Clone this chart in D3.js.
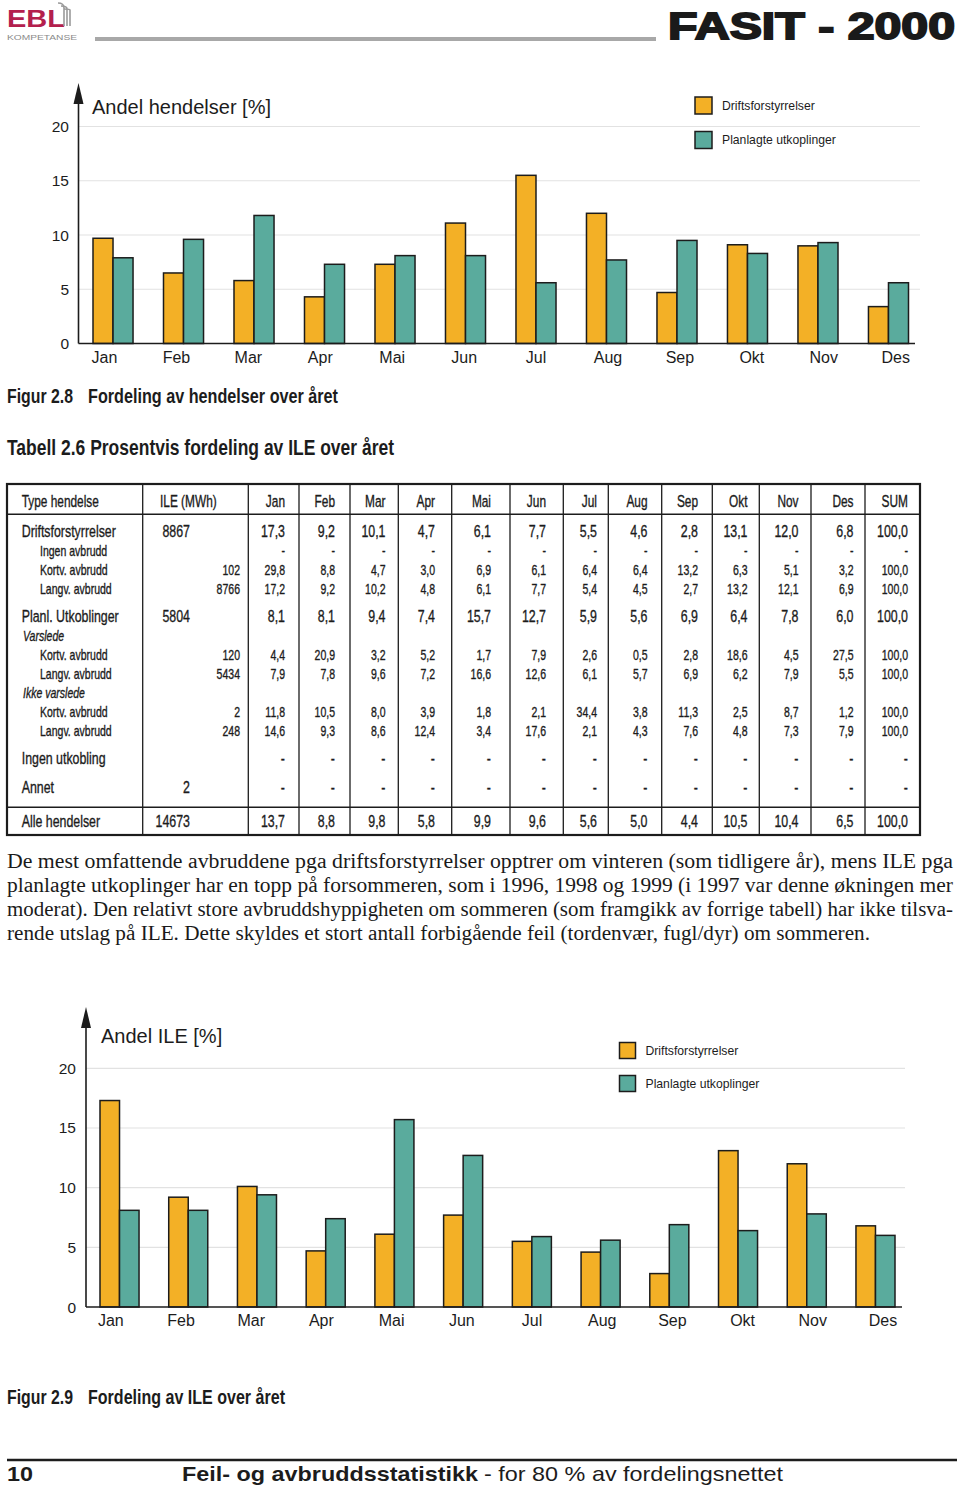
<!DOCTYPE html>
<html><head><meta charset="utf-8">
<script src="https://cdn.jsdelivr.net/npm/d3@7"></script>
<style>body{margin:0;background:#fff}svg{display:block}</style>
</head><body><svg id="c" width="960" height="1488"></svg>
<script>
// ---------------- DATA ----------------
const months = ["Jan","Feb","Mar","Apr","Mai","Jun","Jul","Aug","Sep","Okt","Nov","Des"];
const seriesNames = ["Driftsforstyrrelser","Planlagte utkoplinger"];
const yTicks = [0,5,10,15,20];

// Figur 2.8 – Andel hendelser [%]
const hendDrift = [9.7,6.5,5.8,4.3,7.3,11.1,15.5,12.0,4.7,9.1,9.0,3.4];
const hendPlan  = [7.9,9.6,11.8,7.3,8.1,8.1,5.6,7.7,9.5,8.3,9.3,5.6];

// Figur 2.9 – Andel ILE [%]
const ileDrift = [17.3,9.2,10.1,4.7,6.1,7.7,5.5,4.6,2.8,13.1,12.0,6.8];
const ilePlan  = [8.1,8.1,9.4,7.4,15.7,12.7,5.9,5.6,6.9,6.4,7.8,6.0];

// Tabell 2.6
const tableHeader = ["Type hendelse","ILE (MWh)"].concat(months).concat(["SUM"]);
const rowLabels = ["Driftsforstyrrelser","Ingen avbrudd","Kortv. avbrudd","Langv. avbrudd",
  "Planl. Utkoblinger","Varslede","Kortv. avbrudd","Langv. avbrudd","Ikke varslede",
  "Kortv. avbrudd","Langv. avbrudd","Ingen utkobling","Annet","Alle hendelser"];
const rowKinds = ["main","sub","sub","sub","main","group","sub","sub","group","sub","sub","main","main","main"];
const rowIle = [8867,null,102,8766,5804,null,120,5434,null,2,248,null,2,14673];
const rowValues = [
  [17.3,9.2,10.1,4.7,6.1,7.7,5.5,4.6,2.8,13.1,12.0,6.8],
  "-",
  [29.8,8.8,4.7,3.0,6.9,6.1,6.4,6.4,13.2,6.3,5.1,3.2],
  [17.2,9.2,10.2,4.8,6.1,7.7,5.4,4.5,2.7,13.2,12.1,6.9],
  [8.1,8.1,9.4,7.4,15.7,12.7,5.9,5.6,6.9,6.4,7.8,6.0],
  null,
  [4.4,20.9,3.2,5.2,1.7,7.9,2.6,0.5,2.8,18.6,4.5,27.5],
  [7.9,7.8,9.6,7.2,16.6,12.6,6.1,5.7,6.9,6.2,7.9,5.5],
  null,
  [11.8,10.5,8.0,3.9,1.8,2.1,34.4,3.8,11.3,2.5,8.7,1.2],
  [14.6,9.3,8.6,12.4,3.4,17.6,2.1,4.3,7.6,4.8,7.3,7.9],
  "-",
  "-",
  [13.7,8.8,9.8,5.8,9.9,9.6,5.6,5.0,4.4,10.5,10.4,6.5]
];
const rowSum = [100,"-",100,100,100,null,100,100,null,100,100,"-","-",100];

// ---------------- STYLE / LAYOUT ----------------
const ORANGE = "#f3b026", TEAL = "#5aab9d", INK = "#1c1c1c";
const SANS = "'Liberation Sans', Arial, Helvetica, sans-serif";
const SERIF = "'Liberation Serif', 'Times New Roman', serif";
const svg = d3.select("#c");
const fmt = v => d3.format(".1f")(v).replace(".", ",");

function ctext(parent, x, y, str, o) {
  o = Object.assign({size: 17, anchor: "start", weight: "normal", style: "normal", k: 0.72, fill: INK, family: SANS, stroke: 0.35}, o || {});
  return parent.append("text")
    .attr("transform", `translate(${x},${y}) scale(${o.k},1)`)
    .attr("font-family", o.family).attr("font-size", o.size)
    .attr("font-weight", o.weight).attr("font-style", o.style)
    .attr("text-anchor", o.anchor).attr("fill", o.fill)
    .attr("stroke", o.fill).attr("stroke-width", o.stroke)
    .text(str);
}
function fitText(parent, x, y, str, len, o) {
  o = Object.assign({size: 20, weight: "normal", fill: INK, family: SANS, adjust: "spacingAndGlyphs"}, o || {});
  const t = parent.append("text").attr("x", x).attr("y", y)
    .attr("font-family", o.family).attr("font-size", o.size).attr("font-weight", o.weight)
    .attr("fill", o.fill).attr("textLength", len).attr("lengthAdjust", o.adjust).text(str);
  if (o.stroke) t.attr("stroke", o.fill).attr("stroke-width", o.stroke);
  return t;
}

// ---------------- HEADER ----------------
const hdr = svg.append("g");
// logo
hdr.append("text").attr("transform", "translate(7,27) scale(1,1.25)")
  .attr("font-family", SANS).attr("font-size", 19).attr("font-weight", "bold").attr("fill", "#b3204d")
  .attr("textLength", 58).attr("lengthAdjust", "spacingAndGlyphs").text("EBL");
fitText(hdr, 7, 39.5, "KOMPETANSE", 70, {size: 7, fill: "#8a8a8a"});
[0,3,6].forEach(d => {
  hdr.append("path").attr("d", `M${64+d},26 L${64+d},${8+d*0.3} Q${64+d},${3+d} ${58+d},${3+d}`)
    .attr("fill", "none").attr("stroke", "#9a9a9a").attr("stroke-width", 1.6);
});
hdr.append("rect").attr("x", 95).attr("y", 37).attr("width", 561).attr("height", 4).attr("fill", "#a8a8a8");
fitText(hdr, 668, 39, "FASIT - 2000", 287, {size: 36, weight: "bold", fill: "#1a1a1a", stroke: 1.8});

// ---------------- CHART ----------------
function drawChart(cfg) {
  const g = svg.append("g");
  const y = d3.scaleLinear().domain([0, 20]).range([cfg.y0, cfg.y20]);
  const x = d3.scaleBand().domain(months).range(cfg.bandRange).paddingInner(0.432).paddingOuter(0);
  const xs = d3.scaleBand().domain([0, 1]).range([0, x.bandwidth()]);
  const xl = d3.scalePoint().domain(months).range(cfg.labelRange);

  // grid
  g.selectAll(".grid").data(yTicks.filter(d => d > 0)).join("line")
    .attr("x1", cfg.axisX).attr("x2", cfg.gridEnd)
    .attr("y1", d => y(d)).attr("y2", d => y(d))
    .attr("stroke", "#e2e2e2").attr("stroke-width", 1.2);
  // tick labels
  g.selectAll(".tl").data(yTicks).join("text")
    .attr("x", cfg.tickRight).attr("y", d => y(d) + 5.5)
    .attr("text-anchor", "end").attr("font-family", SANS).attr("font-size", 15.5).attr("fill", INK)
    .text(d => d);

  // bars
  const series = [cfg.a, cfg.b];
  const colors = [ORANGE, TEAL];
  series.forEach((vals, si) => {
    g.selectAll(".b" + si).data(vals).join("rect")
      .attr("x", (d, i) => x(months[i]) + xs(si))
      .attr("y", d => y(d))
      .attr("width", xs.bandwidth())
      .attr("height", d => y(0) - y(d))
      .attr("fill", colors[si]).attr("stroke", INK).attr("stroke-width", 1.5);
  });

  // axes
  g.append("line").attr("x1", cfg.axisX).attr("x2", cfg.baseEnd).attr("y1", y(0)).attr("y2", y(0))
    .attr("stroke", INK).attr("stroke-width", 1.6);
  g.append("line").attr("x1", cfg.axisX).attr("x2", cfg.axisX).attr("y1", y(0)).attr("y2", cfg.arrowBase)
    .attr("stroke", INK).attr("stroke-width", 1.6);
  g.append("path").attr("d", `M${cfg.axisX-5},${cfg.arrowBase+1} L${cfg.axisX},${cfg.arrowTop} L${cfg.axisX+5},${cfg.arrowBase+1} Z`)
    .attr("fill", INK);

  // month labels
  g.selectAll(".ml").data(months).join("text")
    .attr("x", d => xl(d)).attr("y", cfg.labelY)
    .attr("text-anchor", "middle").attr("font-family", SANS).attr("font-size", 16).attr("fill", INK)
    .text(d => d);

  // title
  g.append("text").attr("x", cfg.titleX).attr("y", cfg.titleY)
    .attr("font-family", SANS).attr("font-size", 20).attr("fill", INK).text(cfg.title);

  // legend
  seriesNames.forEach((n, i) => {
    const ly = cfg.legendY[i];
    g.append("rect").attr("x", cfg.legendX).attr("y", ly).attr("width", cfg.legendSize).attr("height", cfg.legendSize)
      .attr("fill", colors[i]).attr("stroke", INK).attr("stroke-width", 1.5);
    g.append("text").attr("x", cfg.legendX + cfg.legendSize + 10).attr("y", ly + cfg.legendSize/2 + 4.3)
      .attr("font-family", SANS).attr("font-size", 12.2).attr("fill", INK).text(n);
  });
}

drawChart({
  a: hendDrift, b: hendPlan, title: "Andel hendelser [%]",
  y0: 343.5, y20: 126.5, axisX: 78.5, bandRange: [93, 908.5], labelRange: [104.5, 895.7],
  labelY: 362.5, gridEnd: 920, baseEnd: 915, tickRight: 69, arrowTop: 83, arrowBase: 103,
  titleX: 92, titleY: 114, legendX: 695, legendY: [97, 131.5], legendSize: 17
});
drawChart({
  a: ileDrift, b: ilePlan, title: "Andel ILE [%]",
  y0: 1307, y20: 1068.3, axisX: 86, bandRange: [100, 895], labelRange: [110.8, 883],
  labelY: 1325.5, gridEnd: 905, baseEnd: 902, tickRight: 76, arrowTop: 1007, arrowBase: 1027,
  titleX: 101, titleY: 1043, legendX: 619.5, legendY: [1042.5, 1075.5], legendSize: 16
});

// ---------------- CAPTIONS ----------------
const cap = svg.append("g");
fitText(cap, 7, 403, "Figur 2.8", 66, {size: 21, weight: "bold"});
fitText(cap, 88, 403, "Fordeling av hendelser over året", 250, {size: 21, weight: "bold"});
fitText(cap, 7, 455, "Tabell 2.6 Prosentvis fordeling av ILE over året", 387, {size: 22, weight: "bold"});
fitText(cap, 7, 1404, "Figur 2.9", 66, {size: 21, weight: "bold"});
fitText(cap, 88, 1404, "Fordeling av ILE over året", 197, {size: 21, weight: "bold"});

// ---------------- TABLE ----------------
const tb = svg.append("g");
const T = {top: 484, bottom: 835, left: 7, right: 920, headBottom: 514.3, totalTop: 807.3};
const colLines = [142.7, 248.3, 299, 350, 398.3, 451.7, 510, 563.3, 608.3, 661.7, 712.3, 759.3, 811, 865];
const colRight = [285, 335, 385.5, 435, 491, 546, 597, 647.5, 698, 747.5, 798.5, 853.5, 908];
const rowY = [536.7, 556, 575, 594, 621.7, 640.7, 660, 679, 697.7, 716.7, 735.7, 764.3, 792.7, 826.7];

colLines.forEach(cx => tb.append("line").attr("x1", cx).attr("x2", cx).attr("y1", T.top).attr("y2", T.bottom)
  .attr("stroke", INK).attr("stroke-width", 1.3));
[T.headBottom, T.totalTop].forEach(ly => tb.append("line").attr("x1", T.left).attr("x2", T.right)
  .attr("y1", ly).attr("y2", ly).attr("stroke", INK).attr("stroke-width", 1.4));
tb.append("rect").attr("x", T.left).attr("y", T.top).attr("width", T.right - T.left).attr("height", T.bottom - T.top)
  .attr("fill", "none").attr("stroke", INK).attr("stroke-width", 2.2);

// header
ctext(tb, 21.7, 506.5, tableHeader[0], {size: 16.5});
ctext(tb, 160, 506.5, tableHeader[1], {size: 16.5});
tableHeader.slice(2).forEach((h, i) => ctext(tb, colRight[i], 506.5, h, {size: 16.5, anchor: "end"}));

rowLabels.forEach((lab, r) => {
  const kind = rowKinds[r], yy = rowY[r];
  const size = kind === "main" ? 17.2 : 14.6;
  if (kind === "main") ctext(tb, 21.7, yy, lab, {size});
  else if (kind === "sub") ctext(tb, 40, yy, lab, {size});
  else ctext(tb, 23, yy, lab, {size: 14.6, style: "italic"});
  if (rowIle[r] != null) {
    if (kind === "main") ctext(tb, 190, yy, String(rowIle[r]), {size, anchor: "end"});
    else ctext(tb, 240, yy, String(rowIle[r]), {size, anchor: "end"});
  }
  const vals = rowValues[r];
  if (vals != null) {
    const cells = vals === "-" ? months.map(() => "-") : vals.map(fmt);
    const sum = rowSum[r] === "-" ? "-" : fmt(rowSum[r]);
    cells.concat([sum]).forEach((s, i) => ctext(tb, colRight[i], yy, s, {size, anchor: "end"}));
  }
});

// ---------------- PARAGRAPH ----------------
const para = svg.append("g");
const lines = [
  "De mest omfattende avbruddene pga driftsforstyrrelser opptrer om vinteren (som tidligere år), mens ILE pga",
  "planlagte utkoplinger har en topp på forsommeren, som i 1996, 1998 og 1999 (i 1997 var denne økningen mer",
  "moderat). Den relativt store avbruddshyppigheten om sommeren (som framgikk av forrige tabell) har ikke tilsva-",
  "rende utslag på ILE. Dette skyldes et stort antall forbigående feil (tordenvær, fugl/dyr) om sommeren."
];
const lineLens = [946, 946, 946, 863];
lines.forEach((l, i) => fitText(para, 7, 868 + i * 24, l, lineLens[i], {size: 20, family: SERIF, fill: "#1a1a1a"}));

// ---------------- FOOTER ----------------
const ft = svg.append("g");
ft.append("line").attr("x1", 7).attr("x2", 957).attr("y1", 1460).attr("y2", 1460).attr("stroke", INK).attr("stroke-width", 2.5);
fitText(ft, 7, 1481, "10", 26, {size: 21, weight: "bold"});
fitText(ft, 182, 1481, "Feil- og avbruddsstatistikk", 296, {size: 21, weight: "bold"});
fitText(ft, 484, 1481, "- for 80 % av fordelingsnettet", 299, {size: 21});
</script></body></html>
